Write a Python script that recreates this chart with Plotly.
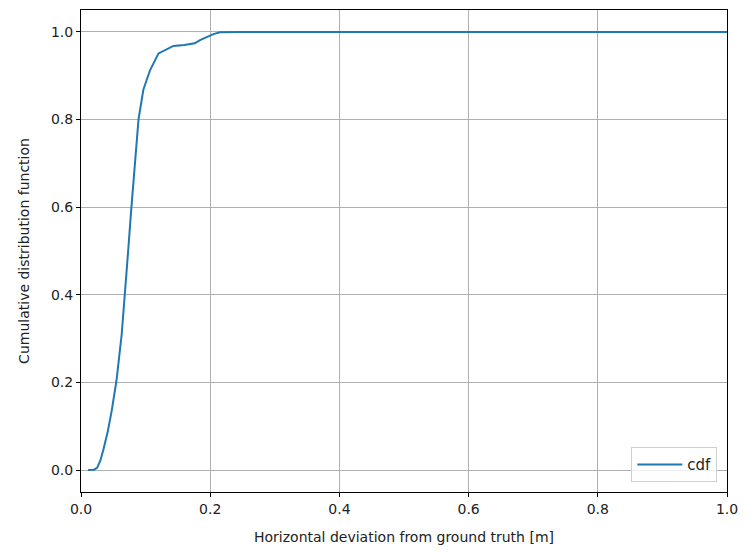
import plotly.graph_objects as go

# deviation [m] and cdf values
deviation = [0.011, 0.02, 0.025, 0.03, 0.0345, 0.041, 0.0475, 0.055, 0.063, 0.068, 0.073,
             0.0775, 0.081, 0.085, 0.089, 0.0965, 0.107, 0.12, 0.13, 0.143, 0.16, 0.176,
             0.185, 0.195, 0.205, 0.215, 0.25, 0.4, 0.6, 0.8, 1.0]
cdf = [0.0, 0.001, 0.005, 0.022, 0.046, 0.085, 0.135, 0.205, 0.31, 0.396, 0.50,
       0.59, 0.65, 0.73, 0.80, 0.868, 0.913, 0.951, 0.958, 0.968, 0.970, 0.974,
       0.982, 0.989, 0.995, 0.999, 1.0, 1.0, 1.0, 1.0, 1.0]

x_ticks = [0.0, 0.2, 0.4, 0.6, 0.8, 1.0]
y_ticks = [0.0, 0.2, 0.4, 0.6, 0.8, 1.0]

fig = go.Figure()
fig.add_trace(go.Scatter(x=deviation, y=cdf, mode="lines", name="cdf",
                         line=dict(color="#1f77b4", width=2)))

axis_style = dict(showline=True, linecolor="black", linewidth=1, mirror=True,
                  ticks="outside", ticklen=4, tickcolor="black", tickwidth=1,
                  showgrid=True, gridcolor="#b0b0b0", gridwidth=1, zeroline=False,
                  tickfont=dict(size=14, color="#222"))

fig.update_xaxes(range=[0, 1.0], tickvals=x_ticks, ticktext=[f"{v:.1f}" for v in x_ticks],
                 title=dict(text="Horizontal deviation from ground truth [m]",
                            font=dict(size=14, color="#222"), standoff=16), **axis_style)
fig.update_yaxes(range=[-0.05, 1.05], tickvals=y_ticks, ticktext=[f"{v:.1f}" for v in y_ticks],
                 title=dict(text="Cumulative distribution function",
                            font=dict(size=14, color="#222"), standoff=18), **axis_style)

# page body adds an 8px offset, so margins are shifted to compensate
fig.update_layout(
    width=754, height=552,
    margin=dict(l=73, r=35, t=2, b=68),
    plot_bgcolor="white", paper_bgcolor="white",
    font=dict(family="DejaVu Sans", size=14, color="#222"),
    showlegend=True,
    legend=dict(x=0.985, y=0.02, xanchor="right", yanchor="bottom",
                bgcolor="rgba(255,255,255,0.8)", bordercolor="#d0d0d0", borderwidth=1,
                itemwidth=45, font=dict(size=15)),
)

fig.write_html("out.html")
